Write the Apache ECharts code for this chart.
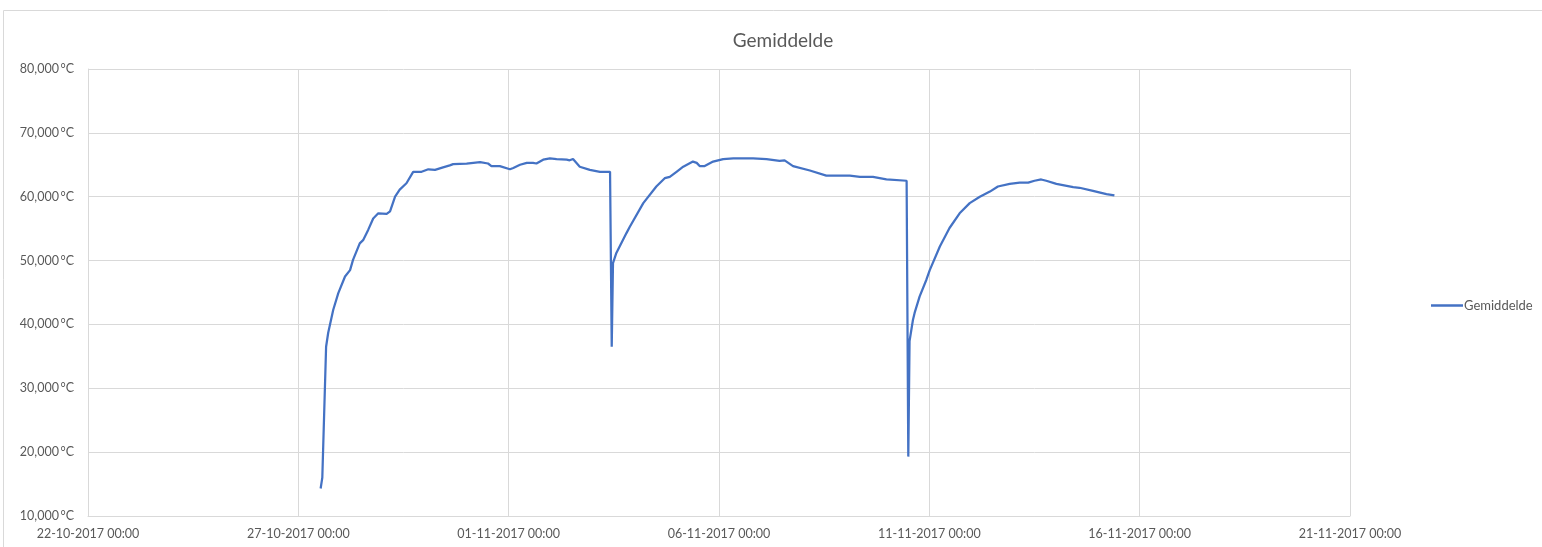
<!DOCTYPE html>
<html>
<head>
<meta charset="utf-8">
<script src="https://cdn.jsdelivr.net/npm/echarts@6/dist/echarts.min.js"></script>
<style>
  html, body { margin: 0; padding: 0; background: #ffffff; }
  #chart { width: 1542px; height: 547px; }
</style>
</head>
<body>
<div id="chart"></div>
<script>
// days since 22-10-2017 00:00
const dayOffsets = [
  5.53, 5.57, 5.61, 5.66, 5.71, 5.83, 5.95, 6.11, 6.23, 6.30, 6.46, 6.54, 6.66, 6.78, 6.90,
  7.10, 7.18, 7.30, 7.41, 7.57, 7.73, 7.93, 8.09, 8.25, 8.44, 8.60, 8.68, 9.00, 9.32, 9.51,
  9.59, 9.79, 10.03, 10.11, 10.27, 10.43, 10.46, 10.58, 10.66, 10.82, 10.98, 11.14, 11.38, 11.45, 11.53,
  11.57, 11.69, 11.93, 12.17, 12.41, 12.45, 12.48, 12.56, 12.80, 12.88, 13.20, 13.51, 13.71, 13.83, 13.99,
  14.15, 14.38, 14.47, 14.54, 14.66, 14.86, 15.10, 15.34, 15.81, 16.13, 16.44, 16.56, 16.76, 17.16, 17.55,
  17.79, 18.11, 18.35, 18.66, 18.98, 19.46, 19.50, 19.53, 19.61, 19.65, 19.77, 19.93, 20.01, 20.25, 20.48,
  20.72, 20.96, 21.20, 21.44, 21.63, 21.91, 22.15, 22.35, 22.50, 22.66, 22.78, 23.02, 23.42, 23.57, 23.89,
  24.21, 24.40
];
const temps = [
  14.3, 16.0, 16.2, 36.5, 38.7, 42.3, 44.9, 47.5, 48.5, 50.1, 52.7, 53.2, 54.8, 56.6, 57.4,
  57.3, 57.7, 60.0, 61.1, 62.1, 63.9, 63.9, 64.3, 64.2, 64.6, 64.9, 65.1, 65.2, 65.4, 65.2,
  64.8, 64.8, 64.3, 64.5, 65.0, 65.3, 65.1, 65.3, 65.2, 65.8, 66.0, 65.9, 65.8, 65.7, 65.9,
  65.8, 64.7, 64.2, 63.9, 63.9, 36.5, 49.6, 51.2, 54.3, 55.3, 59.0, 61.6, 62.9, 63.1, 63.9,
  64.7, 65.5, 65.3, 64.8, 64.8, 65.5, 65.9, 66.0, 66.0, 65.9, 65.6, 65.7, 64.8, 64.1, 63.3,
  63.3, 63.3, 63.1, 63.1, 62.7, 62.5, 19.3, 37.4, 40.7, 41.8, 44.4, 47.0, 48.5, 52.2, 55.1,
  57.4, 59.0, 60.0, 60.8, 61.6, 62.0, 62.2, 62.2, 62.5, 62.7, 62.5, 62.0, 61.5, 61.4, 60.9,
  60.4, 60.2
];
const seriesName = "Gemiddelde";
const startDate = Date.UTC(2017, 9, 22);

const pad = (n) => String(n).padStart(2, "0");
function dayLabel(v) {
  const d = new Date(startDate + v * 86400000);
  return pad(d.getUTCDate()) + "-" + pad(d.getUTCMonth() + 1) + "-" + d.getUTCFullYear() +
    " " + pad(d.getUTCHours()) + ":" + pad(d.getUTCMinutes());
}

const chart = echarts.init(document.getElementById("chart"));
const gridColor = "#d9d9d9";
const textColor = "#595959";
const font = "Lato, 'Liberation Sans', sans-serif";

chart.setOption({
  animation: false,
  textStyle: { fontFamily: font },
  graphic: [
    {
      type: "rect",
      shape: { x: 3.5, y: 10.5, width: 1700, height: 700 },
      style: { fill: "none", stroke: gridColor, lineWidth: 1 },
      silent: true,
    },
  ],
  title: {
    text: "Gemiddelde",
    left: 778,
    textAlign: "center",
    top: 26,
    textStyle: { color: textColor, fontSize: 19, fontWeight: "normal", fontFamily: font },
  },
  legend: {
    left: 1426,
    top: 294,
    icon: "rect",
    itemWidth: 32,
    itemHeight: 2.5,
    itemGap: 2,
    textStyle: { color: textColor, fontSize: 13, fontFamily: font, padding: [0, 0, 0, -4] },
    data: [seriesName],
  },
  grid: { left: 88, right: 192, top: 69, bottom: 31 },
  xAxis: {
    type: "value",
    min: 0,
    max: 30,
    interval: 5,
    axisLine: { show: true, lineStyle: { color: gridColor } },
    axisTick: { show: false },
    splitLine: { show: true, lineStyle: { color: gridColor } },
    axisLabel: {
      color: textColor,
      fontSize: 12.5,
      margin: 11,
      formatter: dayLabel,
    },
  },
  yAxis: {
    type: "value",
    min: 10,
    max: 80,
    interval: 10,
    axisLine: { show: true, lineStyle: { color: gridColor } },
    axisTick: { show: false },
    splitLine: { show: true, lineStyle: { color: gridColor } },
    axisLabel: {
      color: textColor,
      fontSize: 12.5,
      margin: 14,
      formatter: (v) => v.toFixed(3).replace(".", ",") + "\u2009°C",
    },
  },
  series: [
    {
      name: seriesName,
      type: "line",
      data: dayOffsets.map((d, i) => [d, temps[i]]),
      showSymbol: false,
      lineStyle: { color: "#4472c4", width: 2.25 },
      itemStyle: { color: "#4472c4" },
    },
  ],
});
</script>
</body>
</html>
